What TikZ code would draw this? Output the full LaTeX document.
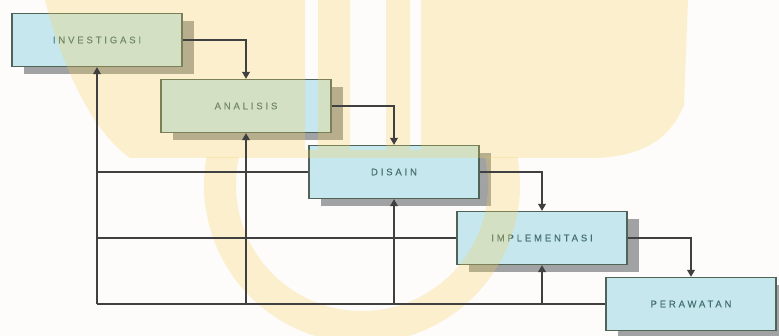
\documentclass[tikz,border=0pt]{standalone}
\usepackage{fontspec}
\newfontfamily\boxfont[LetterSpace=30,FakeBold=0.4]{Liberation Sans}
\usetikzlibrary{arrows.meta,shadows}
\definecolor{bgcol}{HTML}{FDFCFB}
\definecolor{boxfill}{HTML}{C6E7EE}
\definecolor{boxline}{HTML}{4F6457}
\definecolor{boxtext}{HTML}{44706F}
\definecolor{shadowcol}{HTML}{A0A2A3}
\definecolor{linecol}{HTML}{404040}
\definecolor{wmcol}{HTML}{F7CF55}
\tikzset{
  stagebox/.style={draw=boxline, line width=1.2pt, fill=boxfill,
    minimum width=170pt, minimum height=53pt, inner sep=0pt,
    text=boxtext, font=\boxfont\fontsize{9.5}{11}\selectfont,
    drop shadow={shadow xshift=12pt, shadow yshift=-8pt, fill=shadowcol, opacity=1}},
  conn/.style={draw=linecol, line width=1.8pt},
  arr/.style={conn, -{Triangle[length=7pt,width=7.5pt]}},
  wmark/.style={fill=wmcol, fill opacity=0.27}
}
\begin{document}
\begin{tikzpicture}[x=1pt,y=-1pt]
\useasboundingbox (0,0) rectangle (779,336);
\fill[bgcol] (0,0) rectangle (779,336);

\node[stagebox] (inv) at (97,40) {INVESTIGASI};
\node[stagebox] (ana) at (246,106) {ANALISIS};
\node[stagebox] (dis) at (394,172) {DISAIN};
\node[stagebox] (imp) at (542,238) {IMPLEMENTASI};
\node[stagebox] (per) at (691,304) {PERAWATAN};

% watermark
\fill[wmark, even odd rule]
  (45,0) -- (688,0) -- (684,105) .. controls (670,140) and (640,158) .. (590,158)
  -- (130,158) .. controls (90,130) and (60,60) .. (45,0) -- cycle
  (305,0) rectangle (318,150)
  (350,0) rectangle (386,150)
  (410,0) rectangle (421,150);
\begin{scope}
  \clip (0,158) rectangle (779,336);
  \fill[wmark, even odd rule] (362,185) circle[radius=158] (362,185) circle[radius=126];
\end{scope}

% forward flow
\draw[arr] (inv.east) -| (ana.north);
\draw[arr] (ana.east) -| (dis.north);
\draw[arr] (dis.east) -| (imp.north);
\draw[arr] (imp.east) -| (per.north);

% feedback
\coordinate (c0) at (inv.south |- per.west);
\coordinate (c1) at (ana.south |- per.west);
\coordinate (c2) at (dis.south |- per.west);
\coordinate (c3) at (imp.south |- per.west);
\coordinate (h1) at (inv.south |- dis.west);
\coordinate (h2) at (inv.south |- imp.west);
\draw[conn] (per.west) -- (c0);
\draw[conn] (dis.west) -- (h1);
\draw[conn] (imp.west) -- (h2);
\draw[arr] (c0) -- (inv.south);
\draw[arr] (c1) -- (ana.south);
\draw[arr] (c2) -- (dis.south);
\draw[arr] (c3) -- (imp.south);
\end{tikzpicture}
\end{document}
